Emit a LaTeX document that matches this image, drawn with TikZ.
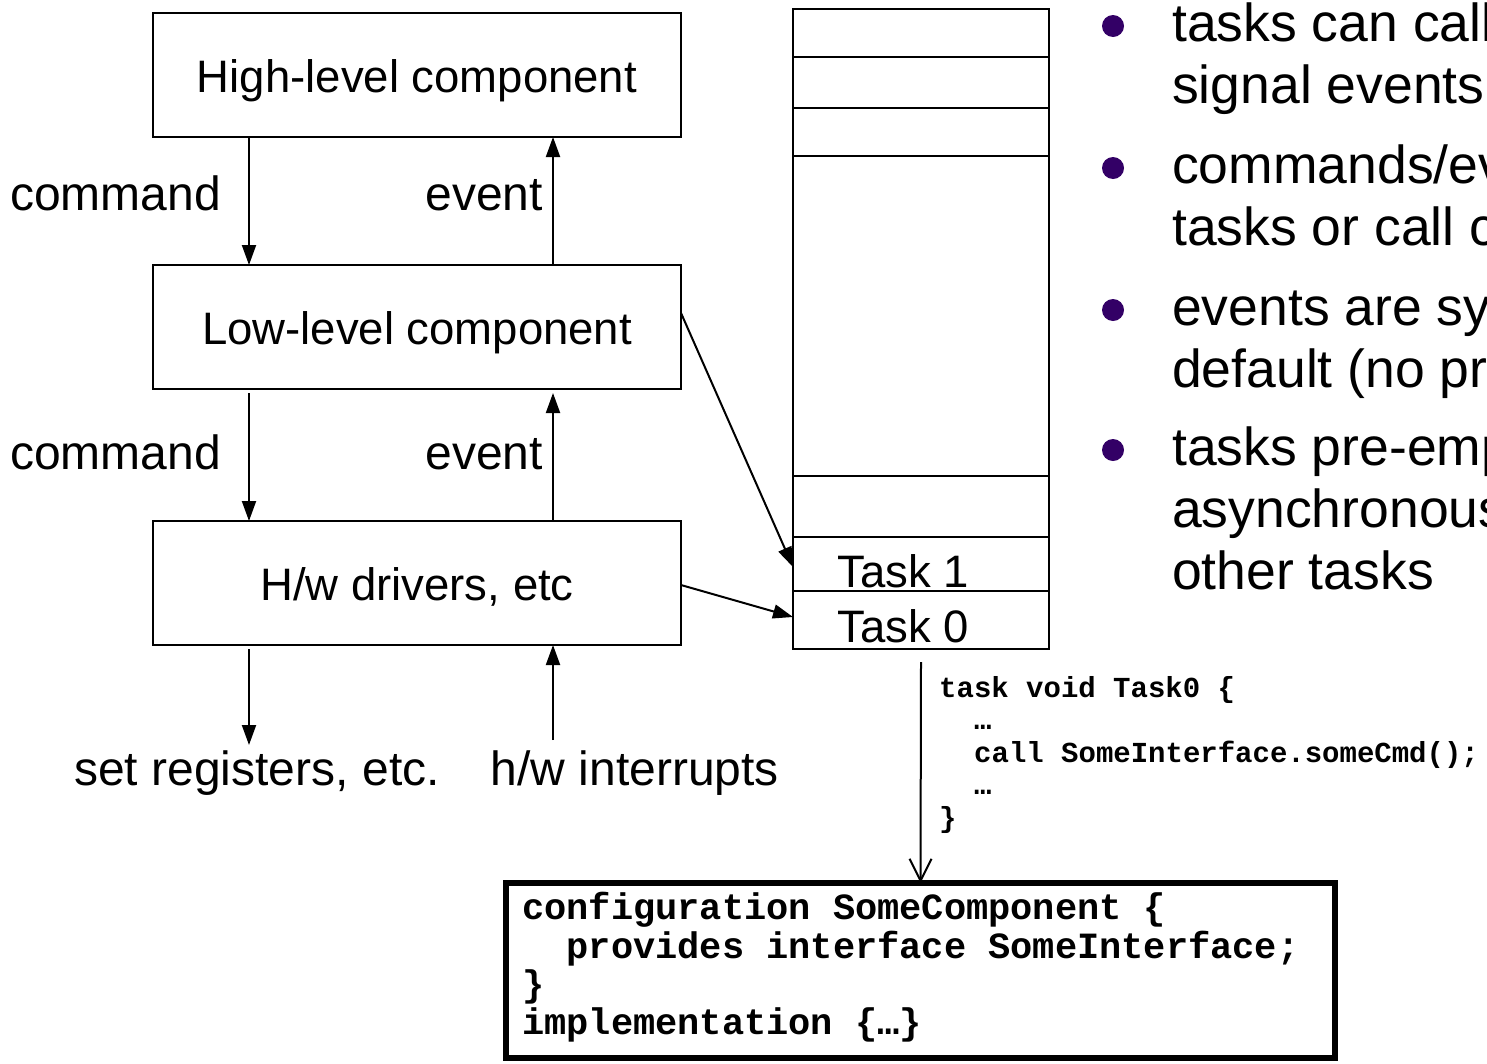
\documentclass[tikz,border=0pt]{standalone}
\usepackage{fontspec}
\setmainfont{Liberation Sans}
\setmonofont{Liberation Mono}
\usetikzlibrary{arrows.meta,calc}
\definecolor{bulletc}{HTML}{330066}
\begin{document}
\begin{tikzpicture}[x=1pt,y=-1pt,
  box/.style={draw, line width=2.5pt, minimum width=528pt, minimum height=124pt, inner sep=0pt, outer sep=0pt, text height=34pt, text depth=0pt, font=\fontsize{45.5}{50}\selectfont},
  lbl/.style={inner sep=0pt, font=\fontsize{48}{52}\selectfont},
  arr/.style={line width=2pt, -{Triangle[length=20pt,width=14pt]}},
  openarr/.style={line width=2pt, -{Straight Barb[length=22pt,width=22pt]}},
  cell/.style={draw, line width=2.5pt, minimum width=256pt, inner sep=0pt, outer sep=0pt},
  divider/.style={line width=2.5pt},
  tasklbl/.style={inner sep=0pt, anchor=base west, font=\fontsize{45.5}{50}\selectfont},
  smallcode/.style={inner sep=0pt, anchor=base west, font=\ttfamily\bfseries\fontsize{29}{32}\selectfont},
  bigcode/.style={inner sep=0pt, anchor=base west, font=\ttfamily\bfseries\fontsize{37}{40}\selectfont},
  bul/.style={inner sep=0pt, anchor=base west, font=\fontsize{53.5}{60}\selectfont},
  dot/.style={fill=bulletc, circle, minimum size=22pt, inner sep=0pt},
]
\useasboundingbox (0,0) rectangle (1487,1063);
\clip (0,0) rectangle (1487,1063);

% left stack of components
\node[box] (hl) at (417,75) {High-level component};
\node[box] (ll) at (417,327) {Low-level component};
\node[box] (hw) at (417,583) {H/w drivers, etc};

\draw[arr] ($(hl.south west)+(96,0)$) -- ($(ll.north west)+(96,0)$);
\draw[arr] ($(ll.north west)+(400,0)$) -- ($(hl.south west)+(400,0)$);
\draw[arr] ($(ll.south west)+(96,4)$) -- ($(hw.north west)+(96,0)$);
\draw[arr] ($(hw.north west)+(400,0)$) -- ($(ll.south west)+(400,4)$);

\coordinate (regs) at (249,745);
\coordinate (irq) at (553,740);
\draw[arr] ($(hw.south west)+(96,4)$) -- (regs);
\draw[arr] (irq) -- ($(hw.south west)+(400,0)$);

\node[lbl, anchor=base west] (cmd1) at (10,210) {command};
\node[lbl, anchor=base east] (ev1) at (543,210) {event};
\node[lbl, anchor=base west] (cmd2) at (10,469) {command};
\node[lbl, anchor=base east] (ev2) at (543,469) {event};
\node[lbl, anchor=base] (regslbl) at (257,785) {set registers, etc.};
\node[lbl, anchor=base] (irqlbl) at (635,785) {h/w interrupts};

% task queue
\node[draw, line width=2.5pt, minimum width=256pt, minimum height=640pt, inner sep=0pt, outer sep=0pt] (stack) at (921,329) {};
\foreach \d in {48,99,147,467}{
  \draw[divider] ($(stack.north west)+(0,\d)$) -- ($(stack.north east)+(0,\d)$);
}
\node[cell, minimum height=54pt] (task1) at (921,564) {};
\node[cell, minimum height=58pt] (task0) at (921,620) {};
\node[tasklbl] (t1lbl) at (837,587) {Task 1};
\node[tasklbl] (t0lbl) at (837,642) {Task 0};

\draw[arr] ($(ll.east)+(0,-14)$) -- ($(task1.west)+(0,3)$);
\draw[arr] ($(hw.east)+(0,2)$) -- ($(task0.west)+(0,-3)$);

% task code
\node[smallcode] (c1) at (939,697) {task void Task0 \{};
\node[smallcode] (c2) at (974,729.5) {…};
\node[smallcode] (c3) at (974,762) {call SomeInterface.someCmd();};
\node[smallcode] (c4) at (974,794.5) {…};
\node[smallcode] (c5) at (939,827) {\}};

% configuration box
\node[draw, line width=6pt, minimum width=829pt, minimum height=175pt, inner sep=0pt, outer sep=0pt] (cfg) at (920.5,970.5) {};
\coordinate (cs) at ($(stack.south)+(0,13)$);
\draw[openarr] (cs) -- (cfg.north);

\node[bigcode] (k1) at (522,919) {configuration SomeComponent \{};
\node[bigcode] (k2) at (522,958) {\ \ provides interface SomeInterface;};
\node[bigcode] (k3) at (522,996) {\}};
\node[bigcode] (k4) at (522,1034) {implementation \{…\}};

% bullets
\node[dot] (d1) at (1113,26) {};
\node[dot] (d2) at (1113,168) {};
\node[dot] (d3) at (1113,310) {};
\node[dot] (d4) at (1113,450) {};
\node[bul] (b1a) at (1172,41) {tasks can call};
\node[bul] (b1b) at (1172,103) {signal events};
\node[bul] (b2a) at (1172,183) {commands/ev};
\node[bul] (b2b) at (1172,245) {tasks or call c};
\node[bul] (b3a) at (1172,325) {events are sy};
\node[bul] (b3b) at (1172,387) {default (no pr};
\node[bul] (b4a) at (1172,465) {tasks pre-emp};
\node[bul] (b4b) at (1172,527) {asynchronous};
\node[bul] (b4c) at (1172,589) {other tasks};
\end{tikzpicture}
\end{document}
